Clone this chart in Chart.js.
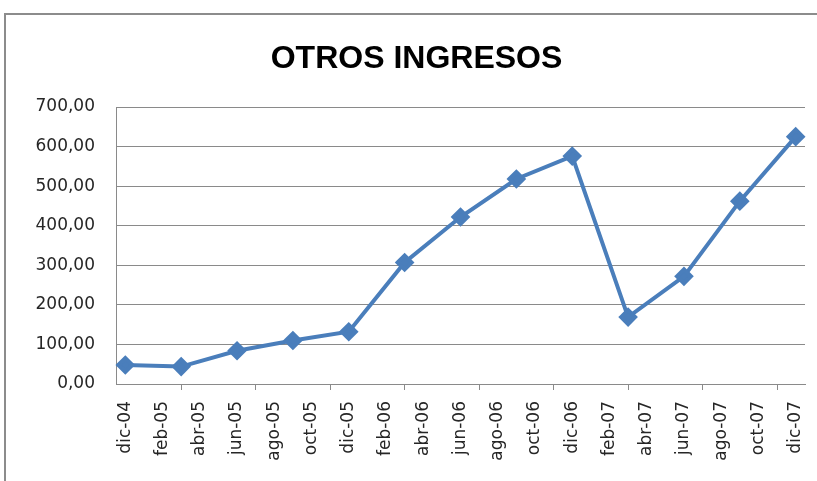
<!DOCTYPE html>
<html>
<head>
<meta charset="utf-8">
<script src="https://cdn.jsdelivr.net/npm/chart.js@4.4.1/dist/chart.umd.min.js"></script>
<style>
  html, body { margin: 0; padding: 0; background: #fff; overflow: hidden; }
  #topLine { position: absolute; left: 4px; top: 13px; width: 813px; height: 2px; background: #8c8c8c; }
  #leftLine { position: absolute; left: 4px; top: 13px; width: 2px; height: 468px; background: #8c8c8c; }
  #wrap { position: absolute; left: 0; top: 0; width: 817px; height: 481px; }
</style>
</head>
<body>
<div id="topLine"></div>
<div id="leftLine"></div>
<div id="wrap"><canvas id="chart"></canvas></div>
<script>
// meses (eje de fechas, una etiqueta cada dos meses)
const months = [
  'dic-04','ene-05','feb-05','mar-05','abr-05','may-05','jun-05','jul-05','ago-05','sep-05','oct-05','nov-05',
  'dic-05','ene-06','feb-06','mar-06','abr-06','may-06','jun-06','jul-06','ago-06','sep-06','oct-06','nov-06',
  'dic-06','ene-07','feb-07','mar-07','abr-07','may-07','jun-07','jul-07','ago-07','sep-07','oct-07','nov-07',
  'dic-07'
];
// datos trimestrales
const quarters = ['dic-04','mar-05','jun-05','sep-05','dic-05','mar-06','jun-06','sep-06','dic-06','mar-07','jun-07','sep-07','dic-07'];
const otrosIngresos = [48, 44, 84, 110, 132, 307, 422, 518, 576, 169, 272, 462, 625];

const blue = '#4a7ebb';
const gridGray = '#8a8a8a';
const font = 'DejaVu Sans';

new Chart(document.getElementById('chart'), {
  type: 'line',
  data: {
    labels: months,
    datasets: [{
      label: 'Otros ingresos',
      data: quarters.map((m, i) => ({ x: m, y: otrosIngresos[i] })),
      borderColor: blue,
      backgroundColor: blue,
      borderWidth: 4,
      pointStyle: 'rectRot',
      pointRadius: 7,
      pointHoverRadius: 7,
      tension: 0
    }]
  },
  options: {
    responsive: true,
    maintainAspectRatio: false,
    animation: false,
    layout: { padding: { left: 28, right: 12, top: 14, bottom: 0 } },
    plugins: {
      legend: { display: false },
      tooltip: { enabled: false },
      title: {
        display: true,
        text: 'OTROS INGRESOS',
        color: '#000',
        font: { family: 'Liberation Sans', size: 32, weight: 'bold' },
        padding: { top: 26, bottom: 28.6 }
      }
    },
    scales: {
      x: {
        type: 'category',
        offset: true,
        afterFit: s => { s.height = 97; s.paddingRight = 0; s.paddingLeft = 0; },
        grid: {
          offset: true,
          drawOnChartArea: false,
          drawTicks: true,
          tickLength: 6,
          color: c => (c.index % 2 === 0 ? gridGray : 'rgba(0,0,0,0)')
        },
        border: { display: true, color: gridGray },
        ticks: {
          autoSkip: false,
          maxRotation: 90,
          minRotation: 90,
          padding: 11,
          color: '#262626',
          font: { family: font, size: 17 },
          callback: function (v, i) { return i % 2 === 0 ? this.getLabelForValue(v) : null; }
        }
      },
      y: {
        min: 0,
        max: 700,
        afterFit: s => { s.width = 88; },
        grid: { color: gridGray, drawTicks: false },
        border: { display: true, color: gridGray },
        ticks: {
          stepSize: 100,
          padding: 21,
          color: '#262626',
          font: { family: font, size: 17 },
          callback: v => v.toFixed(2).replace('.', ',')
        }
      }
    }
  }
});
</script>
</body>
</html>
